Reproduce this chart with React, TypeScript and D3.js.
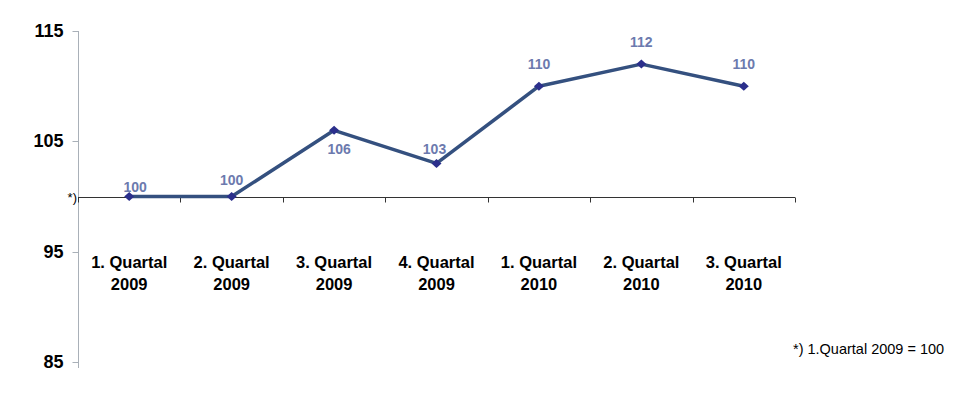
import * as React from 'react';
import * as d3 from 'd3';

const categories = [
  ['1. Quartal', '2009'],
  ['2. Quartal', '2009'],
  ['3. Quartal', '2009'],
  ['4. Quartal', '2009'],
  ['1. Quartal', '2010'],
  ['2. Quartal', '2010'],
  ['3. Quartal', '2010'],
];
const values = [100, 100, 106, 103, 110, 112, 110];
const yTicks = [85, 95, 105, 115];
// label placement relative to the point
const labelDy = [-5, -12, 24, -9, -17, -17, -17];
const labelDx = [6, 0, 5, -2, 0, 0, 0];

const W = 955;
const H = 393;
const FONT = 'Liberation Sans, Arial, sans-serif';

export default function App() {
  const ref = React.useRef<SVGSVGElement>(null);

  React.useEffect(() => {
    const svg = d3.select(ref.current);
    svg.selectAll('*').remove();

    const keys = categories.map((c, i) => String(i));
    const x = d3.scaleBand().domain(keys).range([78, 795]);
    const y = d3.scaleLinear().domain([85, 115]).range([362, 31]);
    const cx = (i: number) => (x(String(i)) as number) + x.bandwidth() / 2;

    // y axis (gray)
    const yAxis = svg.append('g').attr('transform', 'translate(78.5,0)');
    yAxis.append('line')
      .attr('y1', y(115)).attr('y2', y(85) + 6)
      .attr('stroke', '#a9b0b8');
    yAxis.selectAll('line.tick').data(yTicks).enter().append('line')
      .attr('class', 'tick')
      .attr('x1', -6).attr('x2', 0)
      .attr('y1', d => Math.round(y(d)) + 0.5).attr('y2', d => Math.round(y(d)) + 0.5)
      .attr('stroke', '#a9b0b8');
    yAxis.selectAll('text').data(yTicks).enter().append('text')
      .attr('x', -15).attr('y', d => y(d) + 6)
      .attr('text-anchor', 'end')
      .attr('font-family', FONT)
      .attr('font-weight', 'bold').attr('font-size', '18px')
      .attr('fill', '#000')
      .text(d => d);

    // x axis crossing at 100
    const y0 = Math.round(y(100)) + 0.5;
    const xAxis = svg.append('g');
    xAxis.append('line')
      .attr('x1', 78).attr('x2', 795)
      .attr('y1', y0).attr('y2', y0)
      .attr('stroke', '#333');
    xAxis.selectAll('line.tick').data(d3.range(categories.length + 1)).enter().append('line')
      .attr('class', 'tick')
      .attr('x1', i => Math.round(78 + i * x.bandwidth()) + 0.5)
      .attr('x2', i => Math.round(78 + i * x.bandwidth()) + 0.5)
      .attr('y1', y0).attr('y2', y0 + 5)
      .attr('stroke', '#333');
    xAxis.append('text')
      .attr('x', 77).attr('y', y0 + 4)
      .attr('text-anchor', 'end')
      .attr('font-family', FONT)
      .attr('font-size', '13px')
      .text('*)');

    // category labels
    const cat = svg.append('g').selectAll('text').data(categories).enter().append('text')
      .attr('text-anchor', 'middle')
      .attr('font-family', FONT)
      .attr('font-weight', 'bold').attr('font-size', '16.5px')
      .attr('fill', '#000');
    cat.append('tspan').attr('x', (d, i) => cx(i)).attr('y', 268).text(d => d[0]);
    cat.append('tspan').attr('x', (d, i) => cx(i)).attr('y', 290).text(d => d[1]);

    // line
    const line = d3.line<number>().x((d, i) => cx(i)).y(d => y(d));
    svg.append('path')
      .attr('d', line(values))
      .attr('fill', 'none')
      .attr('stroke', '#34507f')
      .attr('stroke-width', 3.5)
      .attr('stroke-linejoin', 'round');

    // diamond markers
    svg.append('g').selectAll('path').data(values).enter().append('path')
      .attr('d', 'M0,-4.5L5,0L0,4.5L-5,0Z')
      .attr('transform', (d, i) => `translate(${cx(i)},${y(d)})`)
      .attr('fill', '#2b2f8c');

    // data labels
    svg.append('g').selectAll('text').data(values).enter().append('text')
      .attr('x', (d, i) => cx(i) + labelDx[i])
      .attr('y', (d, i) => y(d) + labelDy[i])
      .attr('text-anchor', 'middle')
      .attr('font-family', FONT)
      .attr('font-weight', 'bold').attr('font-size', '14px')
      .attr('fill', '#6c7aae')
      .text(d => d);

    // footnote
    svg.append('text')
      .attr('x', 793).attr('y', 354)
      .attr('font-family', FONT)
      .attr('font-size', '14.5px')
      .attr('fill', '#000')
      .text('*) 1.Quartal 2009 = 100');
  }, []);

  return (
    <svg
      ref={ref}
      width={W}
      height={H}
      style={{ position: 'absolute', left: 0, top: 0, background: '#fff' }}
    />
  );
}
